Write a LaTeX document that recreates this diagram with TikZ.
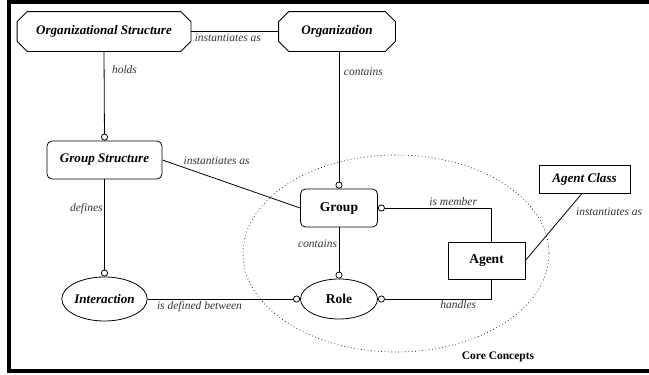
\documentclass[tikz,border=0pt]{standalone}
\usepackage{fontspec}
\setmainfont{Liberation Serif}
\usetikzlibrary{shapes.geometric,arrows.meta,positioning}

\tikzset{
  concept/.style={draw, line width=0.8pt, inner sep=0pt,
    font=\fontsize{13.1}{16}\selectfont\bfseries\itshape},
  upright/.style={font=\fontsize{13.5}{16}\selectfont\bfseries},
  octa/.style={concept, draw=none, rectangle, minimum height=39pt,
    append after command={\pgfextra{\draw[line width=0.8pt]
      ([xshift=10pt]\tikzlastnode.north west) -- ([xshift=-10pt]\tikzlastnode.north east)
      -- ([yshift=-10pt]\tikzlastnode.north east) -- ([yshift=10pt]\tikzlastnode.south east)
      -- ([xshift=-10pt]\tikzlastnode.south east) -- ([xshift=10pt]\tikzlastnode.south west)
      -- ([yshift=10pt]\tikzlastnode.south west) -- ([yshift=-10pt]\tikzlastnode.north west) -- cycle;}}},
  rbox/.style={concept, rectangle, rounded corners=5pt, minimum height=38pt},
  box/.style={concept, rectangle},
  oval/.style={concept, ellipse},
  link/.style={line width=0.8pt},
  ring/.style={-{Circle[length=7pt,fill=white]}},
  lbl/.style={font=\fontsize{11.5}{13}\selectfont\itshape, text=black!80, inner sep=1.5pt}
}

\begin{document}
\begin{tikzpicture}[x=1pt,y=-1pt]
  \useasboundingbox (0,0) rectangle (649,375);
  % frame
  \draw[line width=3.5pt] (649,1.75) -- (9,1.75) -- (9,371) -- (649,371);

  % core concepts area
  \node[ellipse, draw, line width=0.6pt, dash pattern=on 0.8pt off 2.6pt,
    minimum width=306pt, minimum height=197pt, inner sep=0pt] (core) at (396,253.5) {};
  \node[font=\fontsize{11.5}{13}\selectfont\bfseries] (corelbl) at (498,357) {Core Concepts};

  % concepts
  \node[octa, minimum width=173pt] (os) at (104,31.5) {Organizational Structure};
  \node[octa, minimum width=116pt] (org) at (337,31.5) {Organization};
  \node[rbox, minimum width=115pt] (gs) at (104.5,160) {Group Structure};
  \node[oval, minimum width=77pt, minimum height=44pt] (int) at (104.5,299) {Interaction};
  \node[rbox, upright, minimum width=77pt] (grp) at (339,208) {Group};
  \node[oval, upright, minimum width=77pt, minimum height=40pt] (role) at (339,299) {Role};
  \node[box, upright, minimum width=77pt, minimum height=37pt] (ag) at (486.5,260.5) {Agent};
  \node[box, minimum width=91pt, minimum height=28pt] (agc) at (584.5,179) {Agent Class};

  % relations
  \draw[link] (os.east) -- node[lbl, pos=0, anchor=north west, xshift=2pt] {instantiates as} (org.west);
  \draw[link, ring] (os.south) -- node[lbl, pos=.2, anchor=west, xshift=6pt] {holds} (gs.north);
  \draw[link, ring] (grp.north |- org.south) -- node[lbl, pos=.15, anchor=west, xshift=3pt] {contains} (grp.north);
  \draw[link] (gs.east) -- node[lbl, pos=.14, anchor=south west] {instantiates as} (grp.west);
  \draw[link, ring] (gs.south) -- node[lbl, pos=.3, anchor=east] {defines} (int.north);
  \draw[link, ring] (int.east) -- node[lbl, pos=0, anchor=north west, xshift=7.5pt] {is defined between} (role.west);
  \draw[link, ring] (grp.south) -- node[lbl, pos=.32, anchor=east] {contains} (role.north);
  \draw[link, ring] ([xshift=4.5pt]ag.north) |- node[lbl, pos=.667, anchor=south] {is member} (grp.east);
  \draw[link, ring] ([xshift=4.5pt]ag.south) |- node[lbl, pos=.645, anchor=north] {handles} (role.east);
  \draw[link] (ag.east) -- node[lbl, pos=.72, anchor=west, xshift=8pt] {instantiates as} ([xshift=-2.5pt]agc.south);
\end{tikzpicture}
\end{document}
